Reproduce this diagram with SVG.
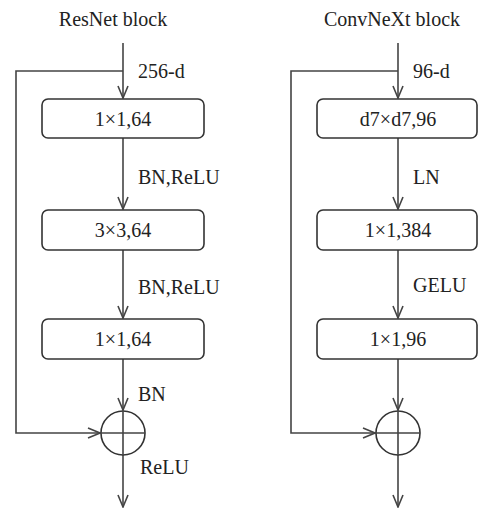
<svg xmlns="http://www.w3.org/2000/svg" width="478" height="512" viewBox="0 0 478 512">
<defs>
<style>
text{font-family:"Liberation Serif","Times New Roman",serif;font-size:20px;fill:#222}
.box{fill:#fff;stroke:#333;stroke-width:1.6}
.ln{fill:none;stroke:#444;stroke-width:1.6}
.c{text-anchor:middle}
</style>
<marker id="ah" viewBox="0 0 14 12" refX="13" refY="6" markerWidth="14" markerHeight="12" markerUnits="userSpaceOnUse" orient="auto">
<path d="M1,1 L13,6 L1,11" fill="none" stroke="#444" stroke-width="1.6"/>
</marker>
</defs>
<rect width="478" height="512" fill="#fff"/>
<text class="c" x="113" y="26">ResNet block</text>
<text class="c" x="392" y="26">ConvNeXt block</text>
<g id="connectors">
<line class="ln" x1="123" y1="43" x2="123" y2="98" marker-end="url(#ah)"/>
<polyline class="ln" points="123,71 16,71 16,433 100,433" marker-end="url(#ah)"/>
<line class="ln" x1="123" y1="138" x2="123" y2="209" marker-end="url(#ah)"/>
<line class="ln" x1="123" y1="250" x2="123" y2="318" marker-end="url(#ah)"/>
<line class="ln" x1="123" y1="359" x2="123" y2="410" marker-end="url(#ah)"/>
<line class="ln" x1="123" y1="455" x2="123" y2="507" marker-end="url(#ah)"/>
<line class="ln" x1="398" y1="43" x2="398" y2="98" marker-end="url(#ah)"/>
<polyline class="ln" points="398,71 291,71 291,433 375,433" marker-end="url(#ah)"/>
<line class="ln" x1="398" y1="138" x2="398" y2="209" marker-end="url(#ah)"/>
<line class="ln" x1="398" y1="250" x2="398" y2="318" marker-end="url(#ah)"/>
<line class="ln" x1="398" y1="359" x2="398" y2="410" marker-end="url(#ah)"/>
<line class="ln" x1="398" y1="455" x2="398" y2="507" marker-end="url(#ah)"/>
<text x="138" y="78">256-d</text>
<text x="138" y="184">BN,ReLU</text>
<text x="138" y="294">BN,ReLU</text>
<text x="138" y="401">BN</text>
<text x="140" y="474">ReLU</text>
<text x="413" y="78">96-d</text>
<text x="413" y="184">LN</text>
<text x="413" y="292">GELU</text>
</g>
<g id="r1"><rect class="box" x="42" y="99" width="162" height="39" rx="6"/><text class="c" x="123" y="126">1×1,64</text></g>
<g id="r2"><rect class="box" x="42" y="210" width="162" height="40" rx="6"/><text class="c" x="123" y="237">3×3,64</text></g>
<g id="r3"><rect class="box" x="42" y="319" width="162" height="40" rx="6"/><text class="c" x="123" y="346">1×1,64</text></g>
<g id="rsum"><circle class="box" cx="123" cy="433" r="22"/><path class="ln" d="M101,433H145M123,411V455"/></g>
<g id="c1"><rect class="box" x="317" y="99" width="160" height="39" rx="6"/><text class="c" x="398" y="126">d7×d7,96</text></g>
<g id="c2"><rect class="box" x="317" y="210" width="160" height="40" rx="6"/><text class="c" x="398" y="237">1×1,384</text></g>
<g id="c3"><rect class="box" x="317" y="319" width="160" height="40" rx="6"/><text class="c" x="398" y="346">1×1,96</text></g>
<g id="csum"><circle class="box" cx="398" cy="433" r="22"/><path class="ln" d="M376,433H420M398,411V455"/></g>
</svg>
